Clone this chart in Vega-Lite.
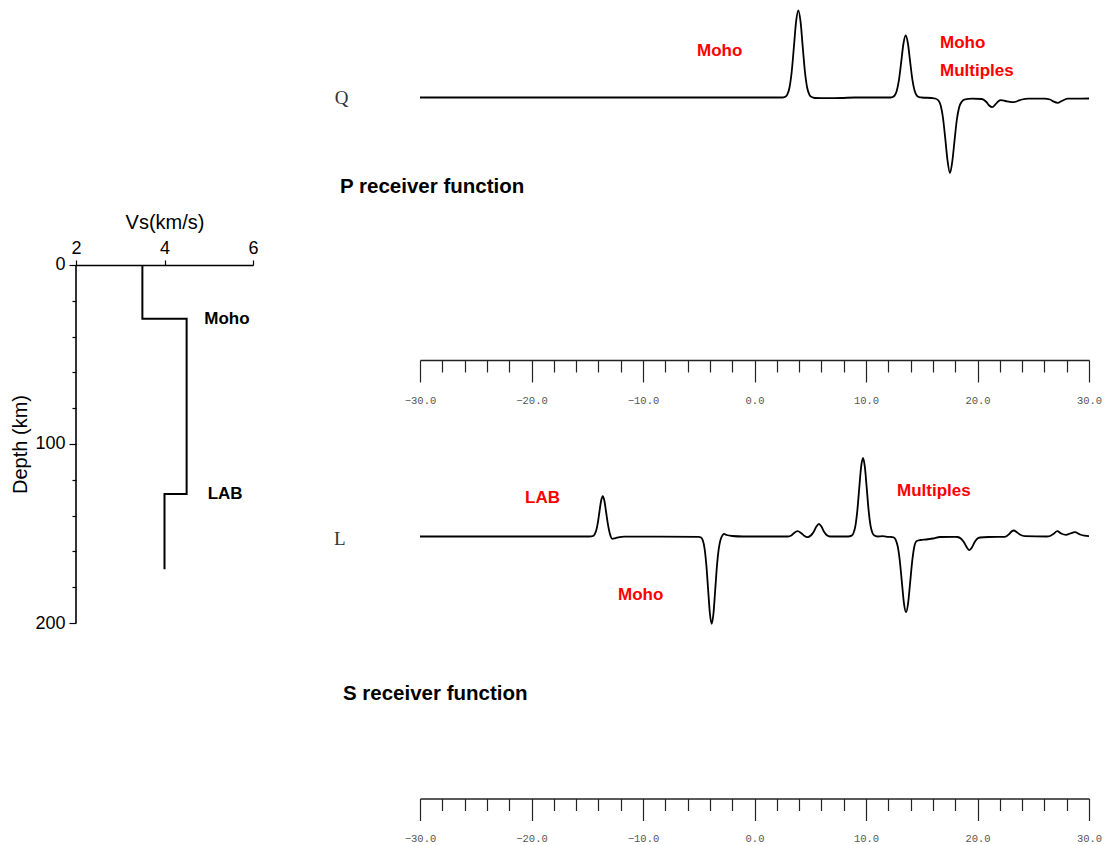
{
  "$schema": "https://vega.github.io/schema/vega-lite/v6.json",
  "background": "white",
  "padding": {"left": 10, "top": 0, "right": 0, "bottom": 0},
  "config": {
    "view": {"stroke": null},
    "font": "Liberation Sans",
    "axis": {"labelFont": "Liberation Sans", "titleFont": "Liberation Sans", "grid": false, "labelOverlap": false, "labelFlush": false}
  },
  "datasets": {
    "profile": [
      {"vs": 3.5, "depth": 0, "ord": 1},
      {"vs": 3.5, "depth": 30, "ord": 2},
      {"vs": 4.5, "depth": 30, "ord": 3},
      {"vs": 4.5, "depth": 128, "ord": 4},
      {"vs": 4.0, "depth": 128, "ord": 5},
      {"vs": 4.0, "depth": 170, "ord": 6}
    ],
    "depthAxis": [
      {"vs": 2, "depth": 0, "ord": 1},
      {"vs": 2, "depth": 200, "ord": 2}
    ],
    "profileLabels": [
      {"vs": 5.41, "depth": 30, "label": "Moho"},
      {"vs": 5.37, "depth": 128, "label": "LAB"}
    ],
    "qTrace": [
      {"t": -30, "amp": 0}, {"t": 2.5, "amp": 0}, {"t": 2.73, "amp": 0.006}, {"t": 2.93, "amp": 0.027},
      {"t": 3.13, "amp": 0.095}, {"t": 3.33, "amp": 0.25}, {"t": 3.53, "amp": 0.5}, {"t": 3.73, "amp": 0.758},
      {"t": 3.93, "amp": 0.87}, {"t": 4.13, "amp": 0.758}, {"t": 4.33, "amp": 0.5}, {"t": 4.53, "amp": 0.25},
      {"t": 4.73, "amp": 0.095}, {"t": 4.93, "amp": 0.027}, {"t": 5.13, "amp": 0.004}, {"t": 5.4, "amp": -0.005},
      {"t": 6.5, "amp": -0.007}, {"t": 7.8, "amp": -0.005}, {"t": 9.0, "amp": 0}, {"t": 12.2, "amp": 0},
      {"t": 12.36, "amp": 0.004}, {"t": 12.56, "amp": 0.019}, {"t": 12.76, "amp": 0.068}, {"t": 12.96, "amp": 0.179},
      {"t": 13.16, "amp": 0.357}, {"t": 13.36, "amp": 0.54}, {"t": 13.56, "amp": 0.62}, {"t": 13.76, "amp": 0.54},
      {"t": 13.96, "amp": 0.357}, {"t": 14.16, "amp": 0.179}, {"t": 14.36, "amp": 0.068}, {"t": 14.56, "amp": 0.019},
      {"t": 14.76, "amp": 0.004}, {"t": 15.0, "amp": 0}, {"t": 15.9, "amp": -0.005}, {"t": 16.2, "amp": -0.01},
      {"t": 16.5, "amp": -0.03}, {"t": 16.7, "amp": -0.08}, {"t": 16.9, "amp": -0.2}, {"t": 17.1, "amp": -0.4},
      {"t": 17.3, "amp": -0.62}, {"t": 17.53, "amp": -0.756}, {"t": 17.75, "amp": -0.63}, {"t": 17.95, "amp": -0.42},
      {"t": 18.15, "amp": -0.22}, {"t": 18.35, "amp": -0.1}, {"t": 18.6, "amp": -0.04}, {"t": 18.9, "amp": -0.018},
      {"t": 19.5, "amp": -0.012}, {"t": 20.4, "amp": -0.015}, {"t": 20.8, "amp": -0.045}, {"t": 21.05, "amp": -0.08},
      {"t": 21.33, "amp": -0.097}, {"t": 21.6, "amp": -0.07}, {"t": 21.85, "amp": -0.04}, {"t": 22.1, "amp": -0.027},
      {"t": 22.5, "amp": -0.035}, {"t": 22.9, "amp": -0.044}, {"t": 23.27, "amp": -0.047}, {"t": 23.6, "amp": -0.035},
      {"t": 24.0, "amp": -0.02}, {"t": 24.56, "amp": -0.012}, {"t": 26.0, "amp": -0.012}, {"t": 26.5, "amp": -0.02},
      {"t": 26.85, "amp": -0.042}, {"t": 27.2, "amp": -0.053}, {"t": 27.55, "amp": -0.035}, {"t": 28.1, "amp": -0.012},
      {"t": 30, "amp": -0.01}
    ],
    "lTrace": [
      {"t": -30, "amp": 0}, {"t": -14.8, "amp": 0}, {"t": -14.51, "amp": 0.004}, {"t": -14.36, "amp": 0.018},
      {"t": -14.21, "amp": 0.054}, {"t": -14.06, "amp": 0.131}, {"t": -13.91, "amp": 0.245}, {"t": -13.76, "amp": 0.355},
      {"t": -13.61, "amp": 0.403}, {"t": -13.46, "amp": 0.355}, {"t": -13.31, "amp": 0.245}, {"t": -13.16, "amp": 0.131},
      {"t": -13.01, "amp": 0.045}, {"t": -12.88, "amp": -0.005}, {"t": -12.75, "amp": -0.023}, {"t": -12.5, "amp": -0.018},
      {"t": -12.1, "amp": -0.006}, {"t": -11.7, "amp": -0.002}, {"t": -5.0, "amp": -0.003}, {"t": -4.8, "amp": -0.01},
      {"t": -4.64, "amp": -0.038}, {"t": -4.48, "amp": -0.118}, {"t": -4.32, "amp": -0.284}, {"t": -4.16, "amp": -0.53},
      {"t": -4.0, "amp": -0.77}, {"t": -3.84, "amp": -0.873}, {"t": -3.68, "amp": -0.77}, {"t": -3.52, "amp": -0.53},
      {"t": -3.36, "amp": -0.284}, {"t": -3.2, "amp": -0.118}, {"t": -3.04, "amp": -0.03}, {"t": -2.88, "amp": 0.01},
      {"t": -2.74, "amp": 0.027}, {"t": -2.5, "amp": 0.015}, {"t": -2.0, "amp": 0.005}, {"t": -1.0, "amp": 0},
      {"t": 3.0, "amp": 0}, {"t": 3.3, "amp": 0.01}, {"t": 3.55, "amp": 0.035}, {"t": 3.87, "amp": 0.053},
      {"t": 4.2, "amp": 0.032}, {"t": 4.45, "amp": 0.008}, {"t": 4.74, "amp": -0.007}, {"t": 5.05, "amp": 0.01},
      {"t": 5.3, "amp": 0.045}, {"t": 5.55, "amp": 0.1}, {"t": 5.78, "amp": 0.127}, {"t": 6.0, "amp": 0.1},
      {"t": 6.25, "amp": 0.045}, {"t": 6.5, "amp": 0.012}, {"t": 6.77, "amp": 0}, {"t": 8.4, "amp": 0},
      {"t": 8.71, "amp": 0.009}, {"t": 8.88, "amp": 0.035}, {"t": 9.05, "amp": 0.106}, {"t": 9.22, "amp": 0.256},
      {"t": 9.39, "amp": 0.478}, {"t": 9.56, "amp": 0.694}, {"t": 9.73, "amp": 0.787}, {"t": 9.9, "amp": 0.694},
      {"t": 10.07, "amp": 0.478}, {"t": 10.24, "amp": 0.256}, {"t": 10.41, "amp": 0.106}, {"t": 10.58, "amp": 0.035},
      {"t": 10.75, "amp": 0.009}, {"t": 11.0, "amp": 0}, {"t": 11.5, "amp": 0.003}, {"t": 12.0, "amp": -0.003},
      {"t": 12.3, "amp": -0.005}, {"t": 12.48, "amp": -0.008}, {"t": 12.665, "amp": -0.033}, {"t": 12.85, "amp": -0.102},
      {"t": 13.035, "amp": -0.246}, {"t": 13.22, "amp": -0.46}, {"t": 13.405, "amp": -0.668}, {"t": 13.59, "amp": -0.757},
      {"t": 13.775, "amp": -0.668}, {"t": 13.96, "amp": -0.46}, {"t": 14.145, "amp": -0.246}, {"t": 14.33, "amp": -0.102},
      {"t": 14.55, "amp": -0.045}, {"t": 14.9, "amp": -0.035}, {"t": 15.4, "amp": -0.03}, {"t": 16.0, "amp": -0.02},
      {"t": 16.64, "amp": -0.005}, {"t": 17.98, "amp": -0.003}, {"t": 18.2, "amp": -0.005}, {"t": 18.5, "amp": -0.02},
      {"t": 18.8, "amp": -0.06}, {"t": 19.05, "amp": -0.11}, {"t": 19.27, "amp": -0.137}, {"t": 19.5, "amp": -0.11},
      {"t": 19.75, "amp": -0.055}, {"t": 20.0, "amp": -0.02}, {"t": 20.22, "amp": -0.01}, {"t": 21.0, "amp": -0.005},
      {"t": 22.47, "amp": -0.003}, {"t": 22.85, "amp": 0.025}, {"t": 23.05, "amp": 0.05}, {"t": 23.27, "amp": 0.06},
      {"t": 23.5, "amp": 0.045}, {"t": 23.8, "amp": 0.02}, {"t": 24.26, "amp": 0.003}, {"t": 26.2, "amp": 0},
      {"t": 26.5, "amp": 0.005}, {"t": 26.8, "amp": 0.025}, {"t": 27.16, "amp": 0.053}, {"t": 27.5, "amp": 0.03},
      {"t": 27.94, "amp": 0.017}, {"t": 28.3, "amp": 0.03}, {"t": 28.74, "amp": 0.043}, {"t": 29.2, "amp": 0.02},
      {"t": 29.6, "amp": 0.008}, {"t": 30, "amp": 0.003}
    ],
    "qPhases": [
      {"t": -5.16, "amp": 0.465, "label": "Moho"},
      {"t": 16.64, "amp": 0.545, "label": "Moho"},
      {"t": 16.64, "amp": 0.265, "label": "Multiples"}
    ],
    "lPhases": [
      {"t": -20.58, "amp": 0.39, "label": "LAB"},
      {"t": 12.78, "amp": 0.46, "label": "Multiples"},
      {"t": -12.24, "amp": -0.58, "label": "Moho"}
    ],
    "qTitle": [{"t": -37.17, "amp": -0.895, "label": "P receiver function"}],
    "lTitle": [{"t": -36.91, "amp": -1.57, "label": "S receiver function"}],
    "qComponent": [{"t": -37.04, "amp": 0, "label": "Q"}],
    "lComponent": [{"t": -37.2, "amp": -0.02, "label": "L"}]
  },
  "hconcat": [
    {
      "width": 177,
      "height": 623,
      "encoding": {
        "x": {
          "field": "vs", "type": "quantitative",
          "scale": {"domain": [2, 6], "nice": false, "zero": false},
          "axis": {
            "orient": "top", "offset": -265, "values": [2, 4, 6], "title": "Vs(km/s)",
            "titleFontSize": 20, "titleFontWeight": "normal", "titleColor": "black", "titlePadding": 7,
            "labelFontSize": 18, "labelColor": "black", "labelPadding": 3, "labelFlush": false, "labelOverlap": false,
            "tickSize": 5, "tickColor": "black", "tickWidth": 1.2,
            "domainColor": "black", "domainWidth": 1.6
          }
        },
        "y": {
          "field": "depth", "type": "quantitative",
          "scale": {"domain": [-148.04, 200], "reverse": true, "nice": false, "zero": false},
          "axis": {
            "values": [0, 20, 40, 60, 80, 100, 120, 140, 160, 180, 200],
            "labelExpr": "datum.value % 100 === 0 ? datum.label : ''",
            "tickSize": {"condition": {"test": "datum.value % 100 === 0", "value": 7}, "value": 4},
            "title": "Depth (km)", "titleFontSize": 20, "titleFontWeight": "normal", "titleColor": "black",
            "titlePadding": 4, "titleY": 444,
            "labelFontSize": 18, "labelColor": "black", "labelPadding": 4, "labelFlush": false, "labelOverlap": false,
            "tickColor": "black", "tickWidth": 1.2,
            "domain": false
          }
        }
      },
      "layer": [
        {
          "data": {"name": "profile"},
          "mark": {"type": "line", "color": "black", "strokeWidth": 2},
          "encoding": {"order": {"field": "ord", "type": "quantitative"}}
        },
        {
          "data": {"name": "depthAxis"},
          "mark": {"type": "line", "color": "black", "strokeWidth": 1.6},
          "encoding": {"order": {"field": "ord", "type": "quantitative"}}
        },
        {
          "data": {"name": "profileLabels"},
          "mark": {"type": "text", "fontWeight": "bold", "fontSize": 17, "color": "black", "align": "center", "baseline": "middle"},
          "encoding": {"text": {"field": "label"}}
        }
      ]
    },
    {
      "spacing": 34.5,
      "vconcat": [
        {
          "width": 669,
          "height": 360,
          "encoding": {
            "x": {
              "field": "t", "type": "quantitative",
              "scale": {"domain": [-30, 30], "nice": false, "zero": false},
              "axis": {
                "orient": "bottom", "title": null,
                "values": [-30, -28, -26, -24, -22, -20, -18, -16, -14, -12, -10, -8, -6, -4, -2, 0, 2, 4, 6, 8, 10, 12, 14, 16, 18, 20, 22, 24, 26, 28, 30],
                "format": ".1f",
                "labelExpr": "datum.value % 10 === 0 ? datum.label : ''",
                "tickSize": {"condition": {"test": "datum.value % 10 === 0", "value": 22}, "value": 12},
                "tickColor": "#222", "tickWidth": 1.2, "domainColor": "#222", "domainWidth": 1.5,
                "labelFont": "Liberation Mono", "labelFontSize": 10.5, "labelColor": "#555",
                "labelPadding": 13, "labelFlush": false, "labelOverlap": false, "labelBound": false
              }
            },
            "y": {
              "field": "amp", "type": "quantitative",
              "scale": {"domain": [-2.625, 0.975], "nice": false, "zero": false},
              "axis": null
            }
          },
          "layer": [
            {
              "data": {"name": "qTrace"},
              "mark": {"type": "line", "color": "black", "strokeWidth": 1.8, "interpolate": "monotone"}
            },
            {
              "data": {"name": "qPhases"},
              "mark": {"type": "text", "color": "#ff0000", "fontWeight": "bold", "fontSize": 17, "align": "left", "baseline": "middle"},
              "encoding": {"text": {"field": "label"}}
            },
            {
              "data": {"name": "qTitle"},
              "mark": {"type": "text", "color": "black", "fontWeight": "bold", "fontSize": 20.5, "align": "left", "baseline": "middle"},
              "encoding": {"text": {"field": "label"}}
            },
            {
              "data": {"name": "qComponent"},
              "mark": {"type": "text", "color": "#333", "font": "Liberation Serif", "fontSize": 19, "align": "center", "baseline": "middle"},
              "encoding": {"text": {"field": "label"}}
            }
          ]
        },
        {
          "width": 669,
          "height": 358,
          "encoding": {
            "x": {
              "field": "t", "type": "quantitative",
              "scale": {"domain": [-30, 30], "nice": false, "zero": false},
              "axis": {
                "orient": "bottom", "title": null,
                "values": [-30, -28, -26, -24, -22, -20, -18, -16, -14, -12, -10, -8, -6, -4, -2, 0, 2, 4, 6, 8, 10, 12, 14, 16, 18, 20, 22, 24, 26, 28, 30],
                "format": ".1f",
                "labelExpr": "datum.value % 10 === 0 ? datum.label : ''",
                "tickSize": {"condition": {"test": "datum.value % 10 === 0", "value": 22}, "value": 12},
                "tickColor": "#222", "tickWidth": 1.2, "domainColor": "#222", "domainWidth": 1.5,
                "labelFont": "Liberation Mono", "labelFontSize": 10.5, "labelColor": "#555",
                "labelPadding": 13, "labelFlush": false, "labelOverlap": false, "labelBound": false
              }
            },
            "y": {
              "field": "amp", "type": "quantitative",
              "scale": {"domain": [-2.62, 0.96], "nice": false, "zero": false},
              "axis": null
            }
          },
          "layer": [
            {
              "data": {"name": "lTrace"},
              "mark": {"type": "line", "color": "black", "strokeWidth": 1.8, "interpolate": "monotone"}
            },
            {
              "data": {"name": "lPhases"},
              "mark": {"type": "text", "color": "#ff0000", "fontWeight": "bold", "fontSize": 17, "align": "left", "baseline": "middle"},
              "encoding": {"text": {"field": "label"}}
            },
            {
              "data": {"name": "lTitle"},
              "mark": {"type": "text", "color": "black", "fontWeight": "bold", "fontSize": 20.5, "align": "left", "baseline": "middle"},
              "encoding": {"text": {"field": "label"}}
            },
            {
              "data": {"name": "lComponent"},
              "mark": {"type": "text", "color": "#333", "font": "Liberation Serif", "fontSize": 19, "align": "center", "baseline": "middle"},
              "encoding": {"text": {"field": "label"}}
            }
          ]
        }
      ]
    }
  ],
  "spacing": 74
}
